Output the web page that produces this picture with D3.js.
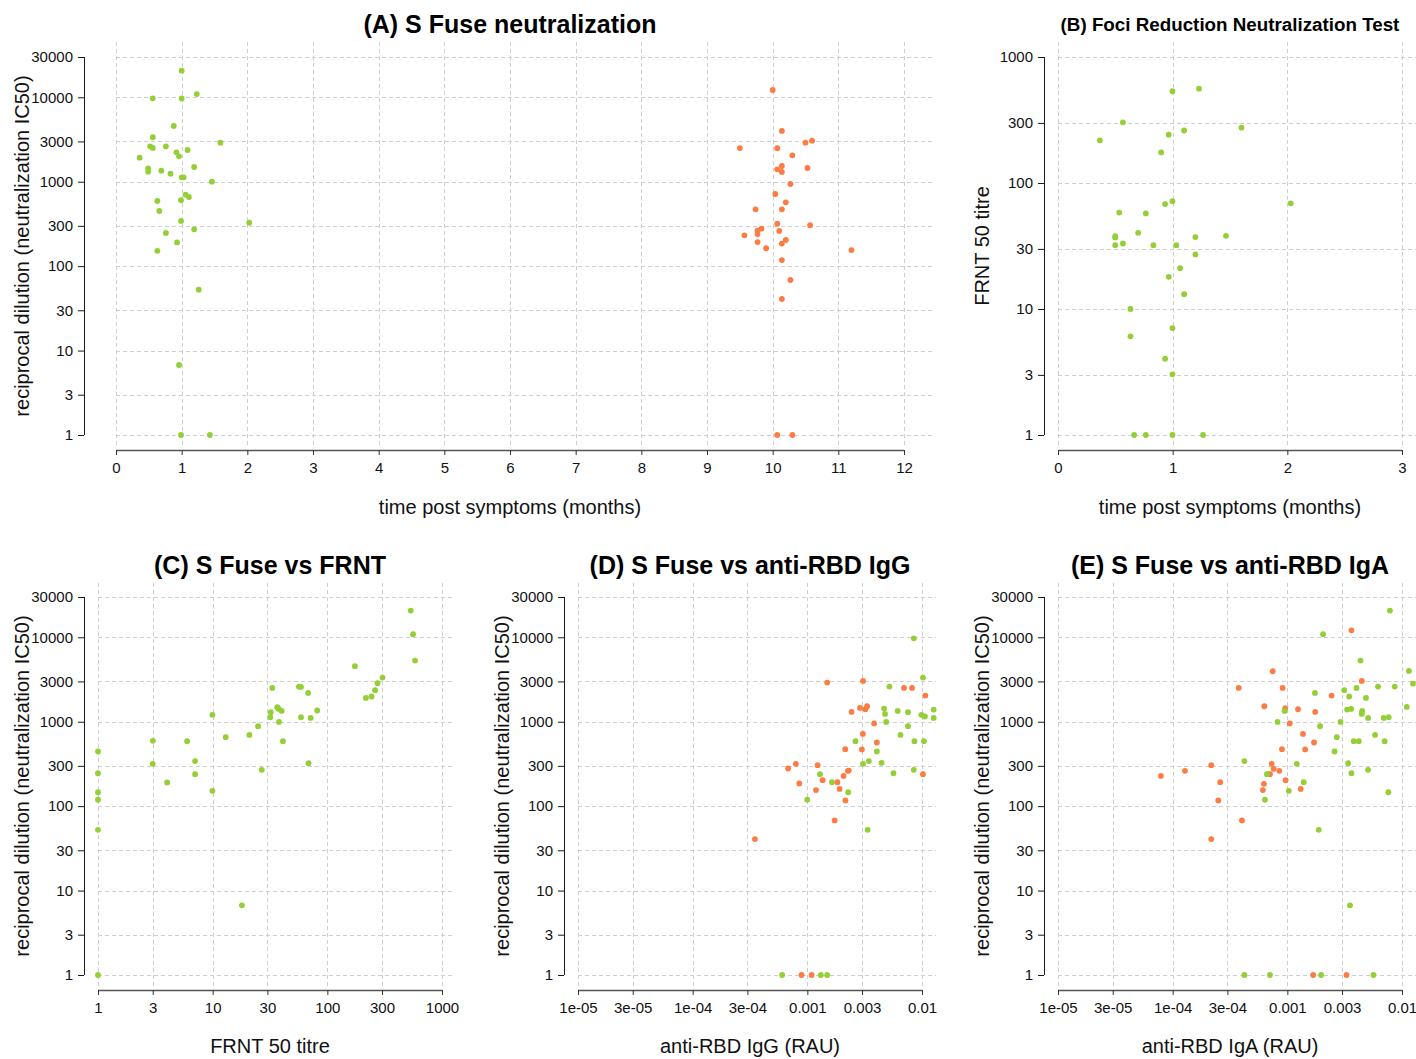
<!DOCTYPE html>
<html>
<head>
<meta charset="utf-8">
<script src="https://cdn.jsdelivr.net/npm/d3@7"></script>
<style>
  html, body { margin: 0; padding: 0; background: #fff; }
  svg { display: block; font-family: "Liberation Sans", Arial, sans-serif; }
</style>
</head>
<body>
<svg id="chart" width="1416" height="1059"></svg>
<script>
// ---------------- DATA ----------------
const ic50Ticks = [1, 3, 10, 30, 100, 300, 1000, 3000, 10000, 30000];
const frntTicks = [1, 3, 10, 30, 100, 300, 1000];
const monthTicksA = [0,1,2,3,4,5,6,7,8,9,10,11,12];
const monthTicksB = [0,1,2,3];
const rauTicks = [1e-5, 3e-5, 1e-4, 3e-4, 1e-3, 3e-3, 1e-2];
const rauTickLabels = ["1e-05", "3e-05", "1e-04", "3e-04", "0.001", "0.003", "0.01"];

// Panel A: early (green) cohort
const aGreenMonths = [1.0,0.56,1.0,1.23,0.88,0.56,1.59,0.52,0.56,0.76,1.09,0.92,0.96,0.36,1.19,0.49,0.49,0.69,0.83,1.0,1.03,1.46,1.06,1.11,0.63,0.99,0.66,0.99,2.03,1.19,0.76,0.93,0.63,1.26,0.96,0.99,1.43];
const aGreenIC50 = [20650,9730,9700,10900,4570,3360,2900,2625,2510,2625,2375,2230,2000,1925,1493,1440,1315,1350,1245,1128,1128,1000,702,659,591,603,450,343,327,273,247,191,152,52.6,6.75,1,1];
// Panel A: late (orange) cohort
const aOrangeMonths = [10.0,10.14,10.6,10.5,9.5,10.07,10.3,10.14,10.07,10.14,10.53,10.27,10.04,10.2,9.74,10.14,10.07,10.57,9.83,10.1,9.77,9.77,9.57,10.2,10.14,9.77,9.9,11.2,10.14,10.27,10.14,10.07,10.3];
const aOrangeIC50 = [12200,3990,3060,2900,2505,2490,2055,1536,1403,1303,1453,939,715,570,471,471,318,305,278,261,263,240,232,204,185,193,163,155,118,68.5,40.8,1,1];

// Panel B: FRNT50 titre vs time
const bMonths = [0.998,1.23,0.566,0.365,0.966,1.1,1.6,0.9,0.998,0.934,2.03,0.534,0.766,0.699,0.499,0.499,1.198,1.465,0.499,0.566,0.832,1.032,1.198,1.065,0.966,1.1,0.632,0.998,0.632,0.934,0.998,0.664,0.766,0.998,1.265];
const bFRNT = [535,561,303,218,242,261,275,175,71.8,68,69,58.3,57.3,40.2,37.8,37,37.2,38.1,32.1,33.1,32.1,32.1,27.1,21.1,18.0,13.1,10.0,7.06,6.07,4.03,3.03,1,1,1,1];

// Panel C: S Fuse IC50 vs FRNT50
const cFRNT = [534,559,582,174,303,274,261,243,217,33.1,56.5,58.9,68.1,81.6,36.6,37.6,40,32.1,31.8,58.9,71.5,37.9,24.9,9.95,20.9,13.0,41.0,5.99,3.01,1,7.03,3,68.5,26.8,1,7.03,4.01,9.95,1,1,1,18.0,1];
const cIC50 = [20700,10860,5300,4540,3335,2857,2362,1988,1914,2513,2610,2580,2193,1357,1485,1418,1343,1295,1130,1130,1110,995,885,1205,698,656,588,588,593,444,341,317,323,269,246,239,191,152,146,119,52.4,6.68,1];

// Panel D: S Fuse IC50 vs anti-RBD IgG
const dOrangeIgG = [0.00149,0.00306,0.00697,0.00818,0.0107,0.00288,0.00321,0.00332,0.00243,0.00382,0.00305,0.00404,0.00214,0.00299,0.000794,0.00123,0.00068,0.0023,0.00226,0.00207,0.00136,0.00183,0.00085,0.00119,0.00191,0.00215,0.00173,0.000349,0.0102,0.000891,0.00109];
const dOrangeIC50 = [2910,3040,2513,2513,2042,1455,1405,1525,1306,952,717,567,473,469,317,306,279,264,262,228,203,192,186,155,160,117,67.7,40.7,239,1,1];
const dGreenIgG = [0.00848,0.0102,0.0052,0.00467,0.00476,0.00614,0.00755,0.00988,0.0106,0.01265,0.01265,0.00487,0.00755,0.00649,0.00859,0.0104,0.00263,0.00404,0.00344,0.00306,0.00444,0.00848,0.00564,0.00129,0.00164,0.00227,0.000998,0.00336,0.000603,0.00131,0.00149];
const dGreenIC50 = [9730,3336,2610,1432,1236,1342,1295,1205,1153,1394,1108,995,885,698,588,588,588,444,341,317,326,269,246,239,192,146,119,52.4,1,1,1];

// Panel E: S Fuse IC50 vs anti-RBD IgA
const eOrangeIgA = [0.00362,0.000745,0.000377,0.00091,0.00446,0.00243,0.00063,0.000958,0.00124,0.00175,0.00105,0.00137,0.00171,0.000898,0.00143,0.000217,0.00073,0.00076,0.000687,0.000705,0.000851,0.000128,0.0000789,0.00026,0.000966,0.000625,0.000612,0.00131,0.00025,0.000402,0.000217,0.00168,0.00328];
const eOrangeIC50 = [12100,3960,2513,2513,3040,2042,1525,1445,1405,1306,952,717,567,473,469,306,317,276,239,239,262,262,228,192,203,184,155,160,117,67.7,40.7,1,1];
const eGreenIgA = [0.00785,0.00205,0.00435,0.0115,0.01246,0.00863,0.00618,0.00313,0.00401,0.00174,0.00346,0.00485,0.0110,0.00332,0.0036,0.00449,0.00446,0.000946,0.00291,0.00506,0.00693,0.00766,0.000822,0.00193,0.00582,0.0027,0.0038,0.0042,0.00706,0.00258,0.000422,0.00121,0.00339,0.00506,0.00362,0.000664,0.00139,0.00103,0.0076,0.000638,0.00188,0.00352,0.000422,0.000705,0.00197,0.00564];
const eGreenIC50 = [20700,10860,5300,3990,2830,2610,2610,2362,2513,2193,1988,1914,1497,1394,1418,1343,1236,1343,995,1108,1108,1130,995,885,698,656,588,588,588,444,341,317,323,269,246,239,192,152,146,119,52.4,6.68,1,1,1,1];

const GREEN = "#93cf35";
const ORANGE = "#fd7c43";

// ---------------- DRAWING ----------------
const svg = d3.select("#chart");
const fmtInt = d3.format("d");
let clipId = 0;

function panel(cfg) {
  const g = svg.append("g");
  const x = cfg.x, y = cfg.y;
  const [xa, xb] = x.range();
  const yBottom = y(y.domain()[0]);
  const yTop = y(y.domain()[1]);
  const pad = cfg.ypad;

  // grid
  const grid = g.append("g").attr("stroke", "#cfcfcf").attr("stroke-width", 1)
    .attr("stroke-dasharray", "4,3").attr("fill", "none");
  grid.selectAll("line.h").data(cfg.yTicks).join("line").attr("class", "h")
    .attr("x1", xa).attr("x2", cfg.gridRight)
    .attr("y1", d => Math.round(y(d)) + 0.5).attr("y2", d => Math.round(y(d)) + 0.5);
  grid.selectAll("line.v").data(cfg.xTicks).join("line").attr("class", "v")
    .attr("x1", d => Math.round(x(d)) + 0.5).attr("x2", d => Math.round(x(d)) + 0.5)
    .attr("y1", yTop - pad).attr("y2", yBottom + pad - 2);

  // y axis
  const yAxis = d3.axisLeft(y).tickValues(cfg.yTicks).tickFormat(fmtInt).tickSizeOuter(0).tickSize(6).tickPadding(5);
  const ya = g.append("g").attr("transform", `translate(${cfg.yAxisX},0)`).call(yAxis);
  ya.select(".domain").attr("d", `M0.5,${yBottom}V${yTop}`).attr("stroke", "#1a1a1a");
  ya.selectAll(".tick line").attr("stroke", "#1a1a1a");
  ya.selectAll(".tick text").attr("font-size", "15px").attr("fill", "#111").attr("font-family", "Liberation Sans, Arial, sans-serif");

  // x axis
  const xAxis = d3.axisBottom(x).tickValues(cfg.xTicks).tickSizeOuter(0).tickSize(5).tickPadding(7)
    .tickFormat((d, i) => cfg.xLabels ? cfg.xLabels[i] : d);
  const xg = g.append("g").attr("transform", `translate(0,${cfg.xAxisY})`).call(xAxis);
  xg.select(".domain").attr("d", `M${xa},0.5H${xb}`).attr("stroke", "#555").attr("stroke-width", 1.5);
  xg.selectAll(".tick line").attr("stroke", "#333");
  xg.selectAll(".tick text").attr("font-size", "15px").attr("fill", "#111").attr("font-family", "Liberation Sans, Arial, sans-serif");

  // points
  const id = "clip" + (clipId++);
  svg.append("clipPath").attr("id", id).append("rect")
    .attr("x", cfg.yAxisX + 2).attr("y", yTop - pad).attr("width", cfg.gridRight - cfg.yAxisX - 1)
    .attr("height", yBottom - yTop + 2 * pad);
  const pts = g.append("g").attr("clip-path", `url(#${id})`);
  cfg.series.forEach(s => {
    pts.append("g").selectAll("circle").data(s.xs.map((v, i) => [v, s.ys[i]])).join("circle")
      .attr("cx", d => x(d[0])).attr("cy", d => y(d[1])).attr("r", 2.9).attr("fill", s.color);
  });

  // titles
  g.append("text").attr("x", cfg.titleX).attr("y", cfg.titleY).attr("text-anchor", "middle")
    .attr("font-weight", "bold").attr("font-size", cfg.titleSize + "px").attr("fill", "#000").text(cfg.title);
  g.append("text").attr("x", cfg.xTitleX).attr("y", cfg.xTitleY).attr("text-anchor", "middle")
    .attr("font-size", "20px").attr("fill", "#111").text(cfg.xTitle);
  g.append("text").attr("transform", `translate(${cfg.yTitleX},${(yBottom + yTop) / 2}) rotate(-90)`)
    .attr("text-anchor", "middle").attr("font-size", "20px").attr("fill", "#111").text(cfg.yTitle);
}

const yTopRow = d3.scaleLog().domain([1, 30000]).range([435, 57]);
const yBotRow = d3.scaleLog().domain([1, 30000]).range([975, 597]);

panel({
  x: d3.scaleLinear().domain([0, 12]).range([116, 904]),
  y: yTopRow, ypad: 15, yTicks: ic50Ticks, xTicks: monthTicksA,
  yAxisX: 84, xAxisY: 450, gridRight: 935,
  series: [{xs: aGreenMonths, ys: aGreenIC50, color: GREEN}, {xs: aOrangeMonths, ys: aOrangeIC50, color: ORANGE}],
  title: "(A) S Fuse neutralization", titleX: 510, titleY: 33, titleSize: 25,
  xTitle: "time post symptoms (months)", xTitleX: 510, xTitleY: 514,
  yTitle: "reciprocal dilution (neutralization IC50)", yTitleX: 29
});

panel({
  x: d3.scaleLinear().domain([0, 3]).range([1058, 1402]),
  y: d3.scaleLog().domain([1, 1000]).range([435, 57]), ypad: 15, yTicks: frntTicks, xTicks: monthTicksB,
  yAxisX: 1044, xAxisY: 450, gridRight: 1420,
  series: [{xs: bMonths, ys: bFRNT, color: GREEN}],
  title: "(B) Foci Reduction Neutralization Test", titleX: 1230, titleY: 31, titleSize: 18.8,
  xTitle: "time post symptoms (months)", xTitleX: 1230, xTitleY: 514,
  yTitle: "FRNT 50 titre", yTitleX: 989
});

panel({
  x: d3.scaleLog().domain([1, 1000]).range([98, 442]),
  y: yBotRow, ypad: 14, yTicks: ic50Ticks, xTicks: frntTicks,
  yAxisX: 84, xAxisY: 990, gridRight: 455,
  series: [{xs: cFRNT, ys: cIC50, color: GREEN}],
  title: "(C) S Fuse vs FRNT", titleX: 270, titleY: 574, titleSize: 25,
  xTitle: "FRNT 50 titre", xTitleX: 270, xTitleY: 1053,
  yTitle: "reciprocal dilution (neutralization IC50)", yTitleX: 29
});

panel({
  x: d3.scaleLog().domain([1e-5, 1e-2]).range([578, 922]),
  y: yBotRow, ypad: 14, yTicks: ic50Ticks, xTicks: rauTicks, xLabels: rauTickLabels,
  yAxisX: 564, xAxisY: 990, gridRight: 936,
  series: [{xs: dOrangeIgG, ys: dOrangeIC50, color: ORANGE}, {xs: dGreenIgG, ys: dGreenIC50, color: GREEN}],
  title: "(D) S Fuse vs anti-RBD IgG", titleX: 750, titleY: 574, titleSize: 25,
  xTitle: "anti-RBD IgG (RAU)", xTitleX: 750, xTitleY: 1053,
  yTitle: "reciprocal dilution (neutralization IC50)", yTitleX: 509
});

panel({
  x: d3.scaleLog().domain([1e-5, 1e-2]).range([1058, 1402]),
  y: yBotRow, ypad: 14, yTicks: ic50Ticks, xTicks: rauTicks, xLabels: rauTickLabels,
  yAxisX: 1044, xAxisY: 990, gridRight: 1420,
  series: [{xs: eOrangeIgA, ys: eOrangeIC50, color: ORANGE}, {xs: eGreenIgA, ys: eGreenIC50, color: GREEN}],
  title: "(E) S Fuse vs anti-RBD IgA", titleX: 1230, titleY: 574, titleSize: 25,
  xTitle: "anti-RBD IgA (RAU)", xTitleX: 1230, xTitleY: 1053,
  yTitle: "reciprocal dilution (neutralization IC50)", yTitleX: 989
});
</script>
</body>
</html>
